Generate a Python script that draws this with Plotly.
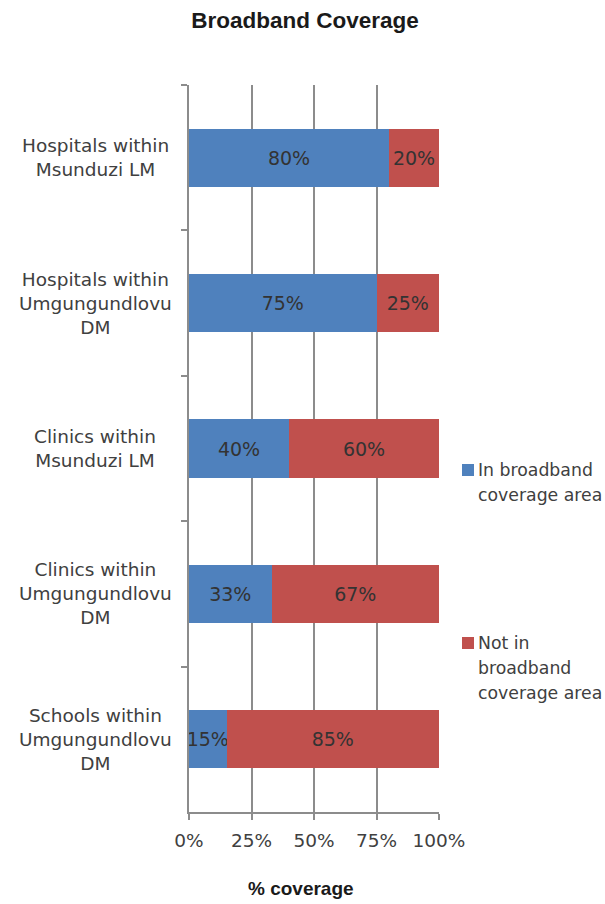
import plotly.graph_objects as go

# Chart data
categories = [
    "Hospitals within<br>Msunduzi LM",
    "Hospitals within<br>Umgungundlovu<br>DM",
    "Clinics within<br>Msunduzi LM",
    "Clinics within<br>Umgungundlovu<br>DM",
    "Schools within<br>Umgungundlovu<br>DM",
]
in_coverage = [80, 75, 40, 33, 15]
not_in_coverage = [20, 25, 60, 67, 85]
series_names = ["In broadband<br>coverage area", "Not in<br>broadband<br>coverage area"]
x_ticks = [0, 25, 50, 75, 100]
x_tick_labels = ["0%", "25%", "50%", "75%", "100%"]

BLUE = "#4F81BD"
RED = "#C0504D"
TEXT = "#404040"
GRID = "#8C8C8C"
FONT = "DejaVu Sans"

W, H = 605, 904
L, R, T, B = 189, 166, 85, 92
PW, PH = W - L - R, H - T - B


def px_x(px):
    return (px - L) / PW


def px_y(py):
    return (H - B - py) / PH


fig = go.Figure()
for vals, color, name in [(in_coverage, BLUE, series_names[0]),
                          (not_in_coverage, RED, series_names[1])]:
    fig.add_trace(go.Bar(
        y=categories, x=vals, orientation="h", name=name,
        marker=dict(color=color, line=dict(width=0)),
        width=0.4,
        text=[f"{v}%" for v in vals],
        textposition="inside", insidetextanchor="middle",
        constraintext="none", textangle=0,
        textfont=dict(family=FONT, size=19, color="#333333"),
        showlegend=False,
    ))

# Category labels, centred multi-line
annotations = []
for c in categories:
    annotations.append(dict(
        x=px_x(95), xref="paper", y=c, yref="y",
        text=c, showarrow=False, xanchor="center", yanchor="middle",
        align="center", font=dict(family=FONT, size=18.5, color=TEXT),
    ))

# Legend built from swatches and text lines
legend_rows = [(series_names[0], BLUE, 470), (series_names[1], RED, 643)]
LINE_GAP = 25
shapes = []
for name, color, yc in legend_rows:
    shapes.append(dict(
        type="rect", xref="paper", yref="paper",
        x0=px_x(462), x1=px_x(474), y0=px_y(yc + 6), y1=px_y(yc - 6),
        fillcolor=color, line=dict(width=0),
    ))
    for i, line in enumerate(name.split("<br>")):
        annotations.append(dict(
            x=px_x(476), xref="paper", y=px_y(yc + i * LINE_GAP), yref="paper",
            text=line, showarrow=False, xanchor="left", yanchor="middle",
            align="left", font=dict(family=FONT, size=17.3, color=TEXT),
        ))

# Axis title
annotations.append(dict(
    x=px_x(301), xref="paper", y=px_y(888), yref="paper",
    text="% coverage", showarrow=False, xanchor="center", yanchor="middle",
    font=dict(family="Liberation Sans", size=19, color="#1a1a1a", weight="bold"),
))

fig.update_layout(
    width=W, height=H,
    margin=dict(l=L, r=R, t=T, b=B, pad=0),
    barmode="stack",
    plot_bgcolor="white", paper_bgcolor="white",
    title=dict(
        text="Broadband Coverage", x=px_x(305), xref="paper", xanchor="center",
        y=1 - 20 / H, yanchor="middle",
        font=dict(family="Liberation Sans", size=22.5, color="#1a1a1a", weight="bold"),
    ),
    annotations=annotations,
    shapes=shapes,
    showlegend=False,
)

fig.update_xaxes(
    range=[0, 100], tickvals=x_ticks, ticktext=x_tick_labels,
    showgrid=True, gridcolor=GRID, gridwidth=1.5,
    showline=True, linecolor=GRID, linewidth=1.5,
    ticks="outside", ticklen=6, tickcolor=GRID, tickwidth=1.5,
    tickfont=dict(family=FONT, size=18.5, color=TEXT),
    ticklabelstandoff=5,
    zeroline=False,
)
fig.update_yaxes(
    autorange="reversed", showticklabels=False,
    tickson="boundaries", ticks="outside", ticklen=6,
    tickcolor=GRID, tickwidth=1.5,
    showline=True, linecolor=GRID, linewidth=1.5,
    showgrid=False,
)

fig.write_html("out.html")
